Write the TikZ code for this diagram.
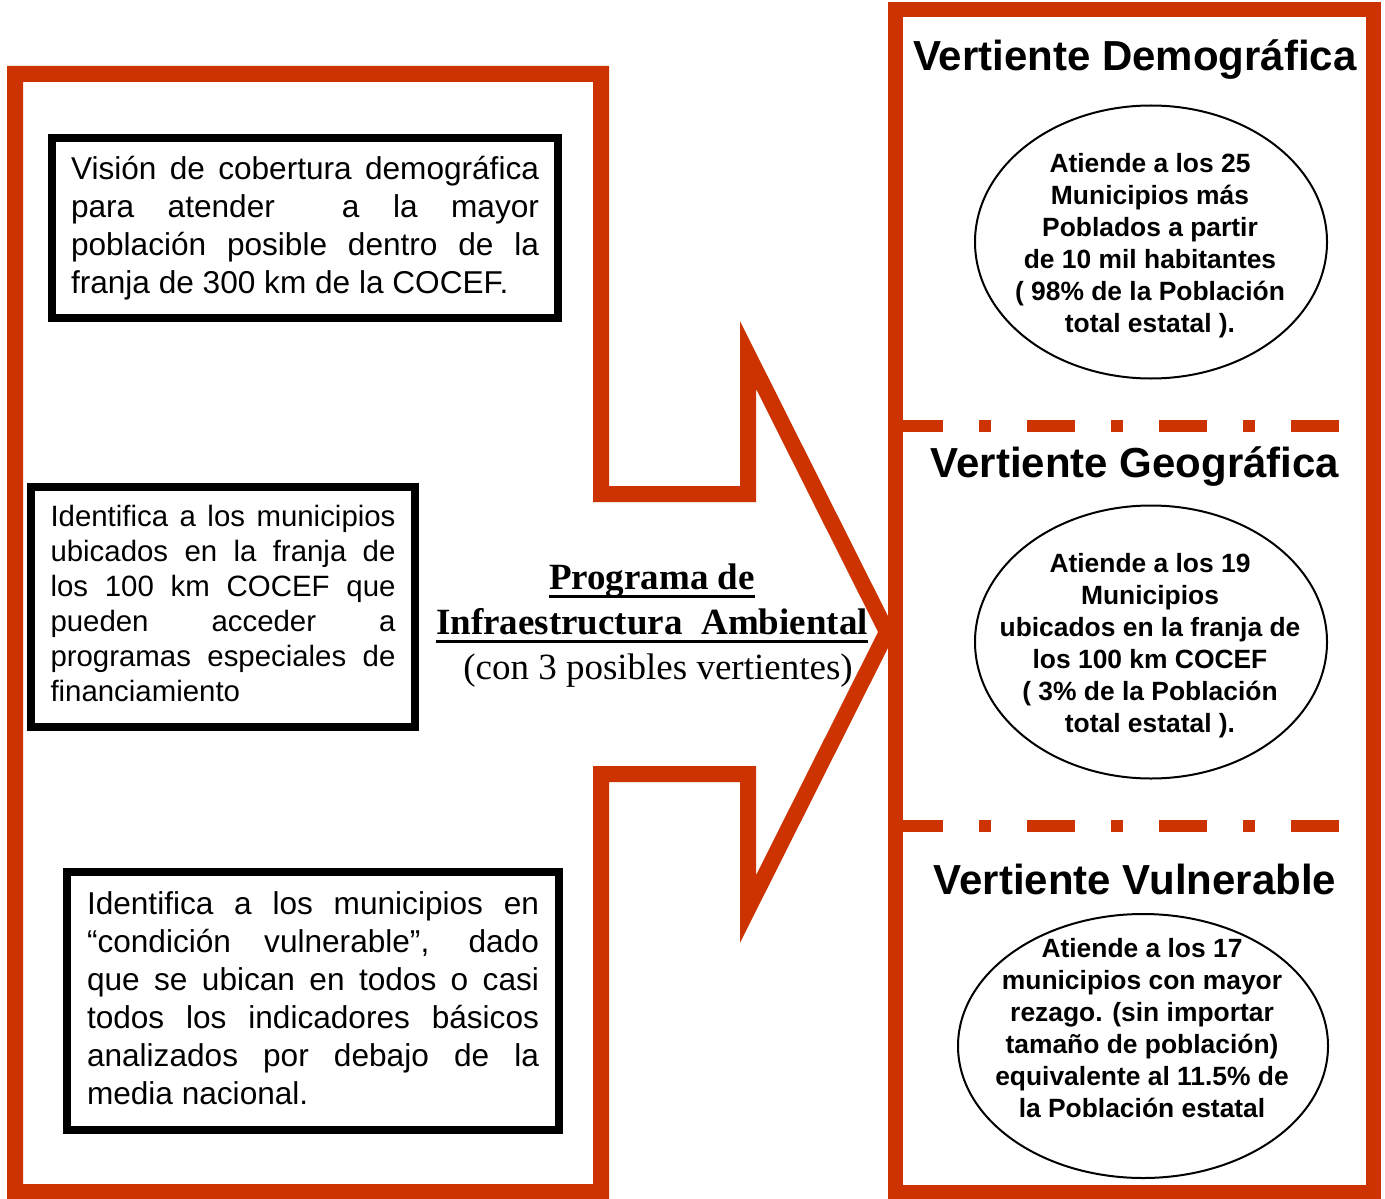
\documentclass[tikz,border=0pt]{standalone}
\usepackage{fontspec}
\setmainfont{Liberation Serif}
\setsansfont{Liberation Sans}
\usetikzlibrary{positioning, shapes, calc}
\definecolor{myred}{RGB}{204, 51, 0}
\tolerance=10000
\newcommand{\myunderline}[1]{\sbox0{#1}\rlap{\rule[-4pt]{\wd0}{1.5pt}}\usebox0}

\begin{document}
\begin{tikzpicture}[
    x=0.5pt, y=-0.5pt,
    every node/.style    = {inner sep=0pt, outer sep=0pt},
         redLine/.style  = {draw=myred, line width=8pt, miter limit=10},
         sepLine/.style  = {draw=myred, line width=6pt, dash pattern=on 24pt off 18pt on 6pt off 18pt},
         infoBox/.style  = {rectangle, draw=black, line width=4pt, align=justify, font=\sffamily\fontsize{15.8}{19}\selectfont},
         titleNode/.style = {font=\sffamily\bfseries\fontsize{21}{25}\selectfont},
         vertEllipse/.style = {ellipse, draw=black, line width=1pt, minimum width=176pt, minimum height=136.5pt},
         ellipseText/.style = {align=center, font=\sffamily\bfseries\fontsize{13.2}{16}\selectfont}
]
    \useasboundingbox (0,0) rectangle (1385,1198);

    % big arrow on the left
    \draw[redLine] (15,74) -- (601,74) -- (601,494) -- (748,494) -- (748,355)
        -- (887,632) -- (748,909) -- (748,774) -- (601,774) -- (601,1192)
        -- (15,1192) -- cycle;

    % frame of the three vertientes
    \draw[sepLine] (895,426) -- (1373,426);
    \draw[sepLine] (895,826) -- (1373,826);
    \draw[draw=myred, line width=7.5pt] (895,10) rectangle (1373,1192);

    \node[infoBox, text width=234pt, inner xsep=9.5pt, minimum height=89.5pt] (vision) at (305,228)
        {Visión de cobertura demográfica\linebreak para atender \ a la mayor\linebreak población posible dentro de la\linebreak franja de 300 km de la COCEF.};
    \node[infoBox, text width=172.5pt, inner xsep=9.75pt, minimum height=120pt, font=\sffamily\fontsize{14.7}{17.5}\selectfont] (franja) at (223,607)
        {Identifica a los municipios\linebreak ubicados en la franja de\linebreak los 100 km COCEF que\linebreak pueden acceder a\linebreak programas especiales de\linebreak financiamiento\vspace{4pt}};
    \node[infoBox, text width=226pt, inner xsep=10pt, minimum height=129pt] (vulnerable) at (313,1001)
        {Identifica a los municipios en\linebreak “condición vulnerable”, dado\linebreak que se ubican en todos o casi\linebreak todos los indicadores básicos\linebreak analizados por debajo de la\linebreak media nacional.\vspace{3pt}};

    \node[align=center, font=\fontsize{18.5}{22.5}\selectfont] (programa) at (652,626)
        {{\bfseries\myunderline{Programa de}}\\ {\bfseries\myunderline{Infraestructura\ \ Ambiental}}\\ \hspace*{6pt}(con 3 posibles vertientes)};

    \node[titleNode] (demTitle) at (1135,60) {Vertiente Demográfica};
    \node[titleNode] (geoTitle) at (1135,467) {Vertiente Geográfica};
    \node[titleNode] (vulTitle) at (1135,879) {Vertiente Vulnerable};

    \node[vertEllipse] (demEllipse) at (1151,242) {};
    \node[vertEllipse] (geoEllipse) at (1151,642) {};
    \node[vertEllipse, minimum width=185pt, minimum height=132pt] (vulEllipse) at (1143,1046) {};

    \node[ellipseText] (demText) at (1150,246)
        {Atiende a los 25\\ Municipios más\\ Poblados a partir\\ de 10 mil habitantes\\ ( 98\% de la Población\\ total estatal ).};
    \node[ellipseText] (geoText) at (1150,646)
        {Atiende a los 19\\ Municipios\\ ubicados en la franja de\\ los 100 km COCEF\\ ( 3\% de la Población\\ total estatal ).};
    \node[ellipseText] (vulText) at (1142,1028)
        {Atiende a los 17\\ municipios con mayor\\ rezago. (sin importar\\ tamaño de población)\\ equivalente al 11.5\% de\\ la Población estatal};
\end{tikzpicture}
\end{document}
